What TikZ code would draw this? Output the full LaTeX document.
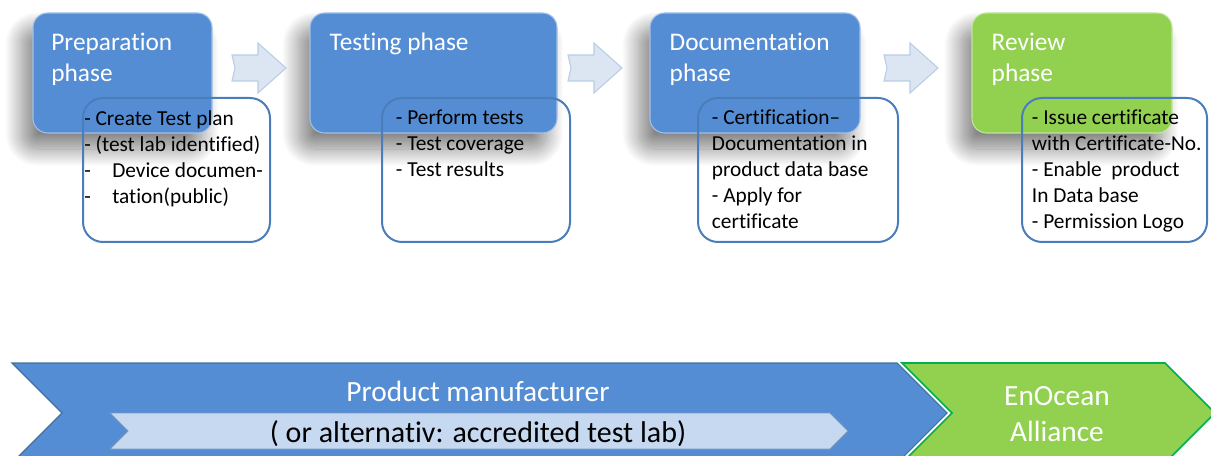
\documentclass[tikz,border=0pt]{standalone}
\usepackage{fontspec}
\setmainfont[Ligatures=NoCommon]{Carlito}
\usepackage{xcolor}
\usetikzlibrary{positioning, calc, shadows.blur}

\definecolor{phaseblue}{RGB}{84,141,212}
\definecolor{phasegreen}{RGB}{146,208,80}
\definecolor{noteline}{RGB}{74,126,187}
\definecolor{arrowfill}{RGB}{220,230,242}
\definecolor{arrowline}{RGB}{185,205,229}
\definecolor{bandline}{RGB}{65,113,156}
\definecolor{barfill}{RGB}{198,217,241}
\definecolor{barline}{RGB}{124,150,185}
\definecolor{allianceline}{RGB}{0,176,80}

\begin{document}
\begin{tikzpicture}[
    x=0.75pt,
    y=-0.75pt,
    phase/.style={
      rounded corners=11pt,
      minimum height=90pt,
      fill=phaseblue,
      draw=phaseblue!55!white,
      line width=0.8pt,
      blur shadow={shadow xshift=-8pt, shadow yshift=-12pt,
                   shadow blur radius=13pt, shadow blur steps=30,
                   shadow opacity=50}
    },
    review/.style={
      phase,
      fill=phasegreen,
      draw=phasegreen!55!white
    },
    note/.style={
      draw=noteline,
      line width=1.5pt,
      rounded corners=15pt,
      minimum height=108pt
    },
    title/.style={
      font=\fontsize{19}{23.2}\selectfont,
      text=white,
      align=left,
      inner sep=0pt
    },
    notetext/.style={
      font=\fontsize{16}{19.5}\selectfont,
      align=left,
      inner sep=0pt
    },
    flowarrow/.style={
      fill=arrowfill,
      draw=arrowline,
      line width=0.8pt
    },
    bandblue/.style={
      fill=phaseblue,
      draw=bandline,
      line width=0.8pt
    },
    bandgreen/.style={
      fill=phasegreen,
      draw=allianceline,
      line width=1.2pt
    },
    bar/.style={
      fill=barfill,
      draw=barline,
      line width=0.6pt
    },
    bandtext/.style={
      font=\fontsize{22}{27}\selectfont,
      text=white,
      align=center,
      inner sep=0pt
    }
]

\clip (0,0) rectangle (1211,456);

% 1) Phase boxes
\node[phase, minimum width=134.25pt] (prep) at (122.5,73) {};
\node[phase, minimum width=185.25pt] (test) at (433.5,73) {};
\node[phase, minimum width=157.5pt] (doc) at (755,73) {};
\node[review, minimum width=150pt] (rev) at (1072,73) {};

% titles
\node[title, anchor=north west] (prepTitle) at ([xshift=14pt, yshift=-15pt]prep.north west) {Preparation\\phase};
\node[title, anchor=north west] (testTitle) at ([xshift=15pt, yshift=-15pt]test.north west) {Testing phase};
\node[title, anchor=north west] (docTitle) at ([xshift=15pt, yshift=-15pt]doc.north west) {Documentation\\phase};
\node[title, anchor=north west] (revTitle) at ([xshift=15pt, yshift=-15pt]rev.north west) {Review\\phase};

% 2) Arrows between the phases
\foreach \ax in {232,568,884} {
  \draw[flowarrow] (\ax,55) -- ++(26,0) -- ++(0,-12) -- ++(28,25)
    -- ++(-28,25) -- ++(0,-12) -- ++(-26,0) -- ++(3,-13) -- cycle;
}

% 3) Note boxes
\node[note, minimum width=140.25pt] (prepNote) at (176.5,170) {};
\node[note, minimum width=141pt] (testNote) at (476,170) {};
\node[note, minimum width=150pt] (docNote) at (798,170) {};
\node[note, minimum width=138.75pt] (revNote) at (1114.5,170) {};

\node[notetext, anchor=north west] (prepList) at ([xshift=1.5pt, yshift=-9.75pt]prepNote.north west)
  {- Create Test plan\\- (test lab identified)\\
   \makebox[21pt][l]{-}Device documen-\\\makebox[21pt][l]{-}tation(public)};
\node[notetext, anchor=north west] (testList) at ([xshift=11pt, yshift=-9.75pt]testNote.north west)
  {- Perform tests\\- Test coverage\\- Test results};
\node[notetext, anchor=north west] (docList) at ([xshift=11pt, yshift=-9.75pt]docNote.north west)
  {- Certification–\\Documentation in\\product data base\\- Apply for\\certificate};
\node[notetext, anchor=north west] (revList) at ([xshift=8pt, yshift=-9.75pt]revNote.north west)
  {- Issue certificate\\with Certificate-No.\\- Enable\ \ product\\In Data base\\- Permission Logo};

% 4) Bottom bands
\draw[bandblue] (12,363) -- (897,363) -- (947,413) -- (897,463) -- (12,463) -- (62,413) -- cycle;
\draw[bandgreen] (902,363) -- (1165,363) -- (1215,413) -- (1165,463) -- (902,463) -- (952,413) -- cycle;
\draw[bar] (110,413) -- (830,413) -- (848,431) -- (830,449) -- (110,449) -- (128,431) -- cycle;

\node[bandtext] (maker) at (478,391) {Product manufacturer};
\node[bandtext, text=black, font=\fontsize{22.5}{27}\selectfont] (lab) at (478,434) {( or alternativ: accredited test lab)};
\node[bandtext] (alliance) at (1057,414) {EnOcean\\Alliance};

\end{tikzpicture}
\end{document}
